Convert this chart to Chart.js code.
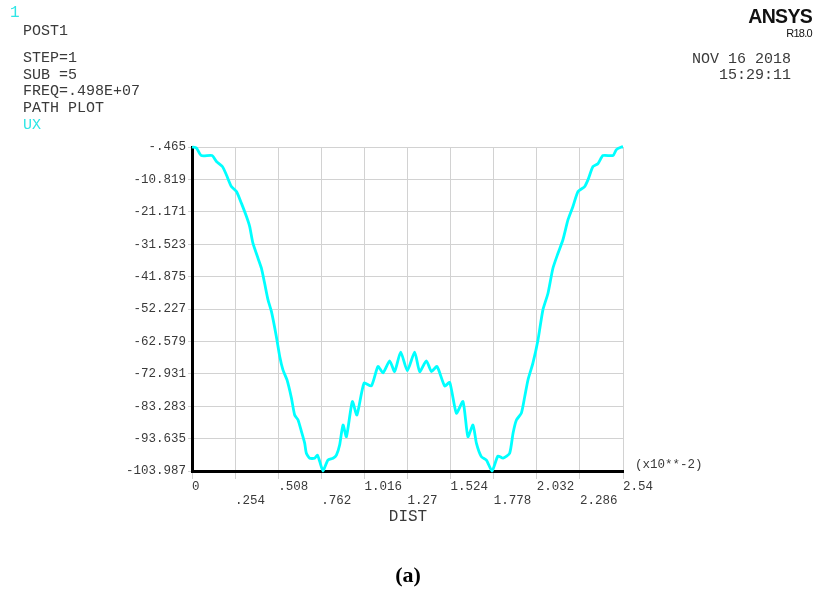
<!DOCTYPE html>
<html>
<head>
<meta charset="utf-8">
<title>ANSYS path plot UX</title>
<script src="https://cdn.jsdelivr.net/npm/chart.js@4"></script>
<style>
  body { margin: 0; background: #fff; }
  #wrap { position: relative; width: 815px; height: 599px; overflow: hidden; }
  #wrap canvas { position: absolute; left: 0; top: 0; }
  .txt { position: absolute; font-family: "Liberation Mono", monospace; font-size: 15px; line-height: 17px; color: #3a3a3a; white-space: pre; }
  .cyan { color: #2ee6e6; }
  .brand { position: absolute; right: 3px; font-family: "Liberation Sans", Arial, sans-serif; color: #111; white-space: pre; }
</style>
</head>
<body>
<div id="wrap">
  <canvas id="grafico" width="815" height="599"></canvas>

  <div class="txt cyan" style="left:10px; top:5px; font-size:16px;">1</div>
  <div class="txt" style="left:23px; top:23px;">POST1</div>
  <div class="txt" style="left:23px; top:50px;">STEP=1</div>
  <div class="txt" style="left:23px; top:67px;">SUB =5</div>
  <div class="txt" style="left:23px; top:83px;">FREQ=.498E+07</div>
  <div class="txt" style="left:23px; top:100px;">PATH PLOT</div>
  <div class="txt cyan" style="left:23px; top:117px;">UX</div>

  <div class="brand" style="top:6px; font-size:19.5px; line-height:20px; font-weight:bold; letter-spacing:-0.7px;">ANSYS</div>
  <div class="brand" style="top:28px; font-size:11px; line-height:11px; letter-spacing:-0.7px;">R18.0</div>
  <div class="txt" style="right:24px; top:51px;">NOV 16 2018</div>
  <div class="txt" style="right:24px; top:67px;">15:29:11</div>

  <div class="txt" style="left:635px; top:458px; font-size:12.5px; line-height:14px;">(x10**-2)</div>
  <div class="txt" style="left:408px; top:509px; font-size:16px; transform:translateX(-50%);">DIST</div>
  <div style="position:absolute; left:408px; top:564px; transform:translateX(-50%); font-family:'Liberation Serif', serif; font-weight:bold; font-size:22px; line-height:22px; color:#000;">(a)</div>
</div>

<script>
const xTickValues = [0, 0.254, 0.508, 0.762, 1.016, 1.27, 1.524, 1.778, 2.032, 2.286, 2.54];
const xTickLabels = ["0", ".254", ".508", ".762", "1.016", "1.27", "1.524", "1.778", "2.032", "2.286", "2.54"];

const yTickValues = [-103.987, -93.635, -83.283, -72.931, -62.579, -52.227, -41.875, -31.523, -21.171, -10.819, -0.465];
const yTickLabels = ["-103.987", "-93.635", "-83.283", "-72.931", "-62.579", "-52.227", "-41.875", "-31.523", "-21.171", "-10.819", "-.465"];

// DIST (x10**-2) e UX
const distValues = [
  0, 0.026, 0.055, 0.118, 0.144, 0.179, 0.203, 0.232, 0.262, 0.291,
  0.321, 0.340, 0.359, 0.389, 0.409, 0.428, 0.448, 0.468, 0.497, 0.517,
  0.536, 0.560, 0.586, 0.605, 0.625, 0.645, 0.664, 0.674, 0.694, 0.723,
  0.739, 0.753, 0.772, 0.801, 0.831, 0.851, 0.870, 0.890, 0.910, 0.945,
  0.972, 1.014, 1.057, 1.096, 1.126, 1.165, 1.194, 1.230, 1.269, 1.312,
  1.342, 1.381, 1.411, 1.444, 1.489, 1.519, 1.558, 1.597, 1.626, 1.656,
  1.676, 1.705, 1.735, 1.768, 1.803, 1.833, 1.872, 1.892, 1.912, 1.941,
  1.961, 1.980, 2.009, 2.039, 2.068, 2.098, 2.127, 2.157, 2.186, 2.216,
  2.245, 2.275, 2.314, 2.334, 2.363, 2.392, 2.422, 2.481, 2.501, 2.531,
  2.54
];
const uxValues = [
  -0.465, -0.8, -3.2, -3.2, -5.1, -6.7, -9.4, -13.1, -14.7, -18.4,
  -22.7, -25.9, -31.2, -36.0, -39.2, -44.0, -49.3, -53.0, -61.0, -67.4,
  -71.7, -74.9, -80.7, -86.1, -87.7, -91.4, -95.1, -98.3, -99.9, -99.9,
  -98.9, -101.0, -103.987, -100.5, -99.9, -98.9, -95.7, -89.3, -93.0, -81.8,
  -86.1, -75.9, -76.8, -70.6, -72.6, -68.8, -72.2, -66.0, -71.9, -66.0,
  -72.2, -68.8, -72.2, -70.6, -76.8, -75.7, -85.5, -81.8, -93.0, -89.3,
  -95.1, -99.4, -100.5, -103.987, -99.2, -99.9, -98.3, -91.9, -87.7, -85.5,
  -80.2, -74.9, -69.5, -62.1, -52.5, -47.2, -39.2, -34.4, -30.1, -23.7,
  -19.5, -14.7, -13.1, -10.9, -6.7, -5.8, -3.2, -3.2, -1.3, -0.465,
  -0.465
];

const tickFont = { family: "Liberation Mono", size: 12.5, lineHeight: 1.08 };

function criarGrafico() {
  const ctx = document.getElementById("grafico").getContext("2d");

  new Chart(ctx, {
    type: "line",
    data: {
      datasets: [
        {
          label: "UX",
          data: distValues.map((d, i) => ({ x: d, y: uxValues[i] })),
          borderColor: "#00ffff",
          borderWidth: 2.8,
          pointRadius: 0,
          tension: 0.2,
          fill: false,
          clip: 4,
        },
      ],
    },
    options: {
      responsive: false,
      animation: false,
      events: [],
      layout: { padding: { left: 112, right: 192, top: 147, bottom: 88 } },
      plugins: { legend: { display: false }, tooltip: { enabled: false } },
      scales: {
        x: {
          type: "linear",
          min: 0,
          max: 2.54,
          afterBuildTicks: (s) => {
            s.ticks = xTickValues.map((v) => ({ value: v }));
          },
          afterFit: (s) => {
            s.height = 40;
          },
          ticks: {
            autoSkip: false,
            maxRotation: 0,
            minRotation: 0,
            align: "start",
            padding: 1,
            color: "#3a3a3a",
            font: tickFont,
            callback: (v, i) => (i % 2 === 0 ? xTickLabels[i] : ["", xTickLabels[i]]),
          },
          grid: { color: "#d2d2d2", lineWidth: 1, tickLength: 8 },
          border: { color: "#000", width: 3 },
        },
        y: {
          type: "linear",
          min: -103.987,
          max: -0.465,
          afterBuildTicks: (s) => {
            s.ticks = yTickValues.map((v) => ({ value: v }));
          },
          afterFit: (s) => {
            s.width = 80;
          },
          ticks: {
            autoSkip: false,
            padding: 2,
            color: "#3a3a3a",
            font: tickFont,
            callback: (v, i) => yTickLabels[i],
          },
          grid: { color: "#d2d2d2", lineWidth: 1, tickLength: 4 },
          border: { color: "#000", width: 3 },
        },
      },
    },
  });
}

document.addEventListener("DOMContentLoaded", criarGrafico);
</script>
</body>
</html>
